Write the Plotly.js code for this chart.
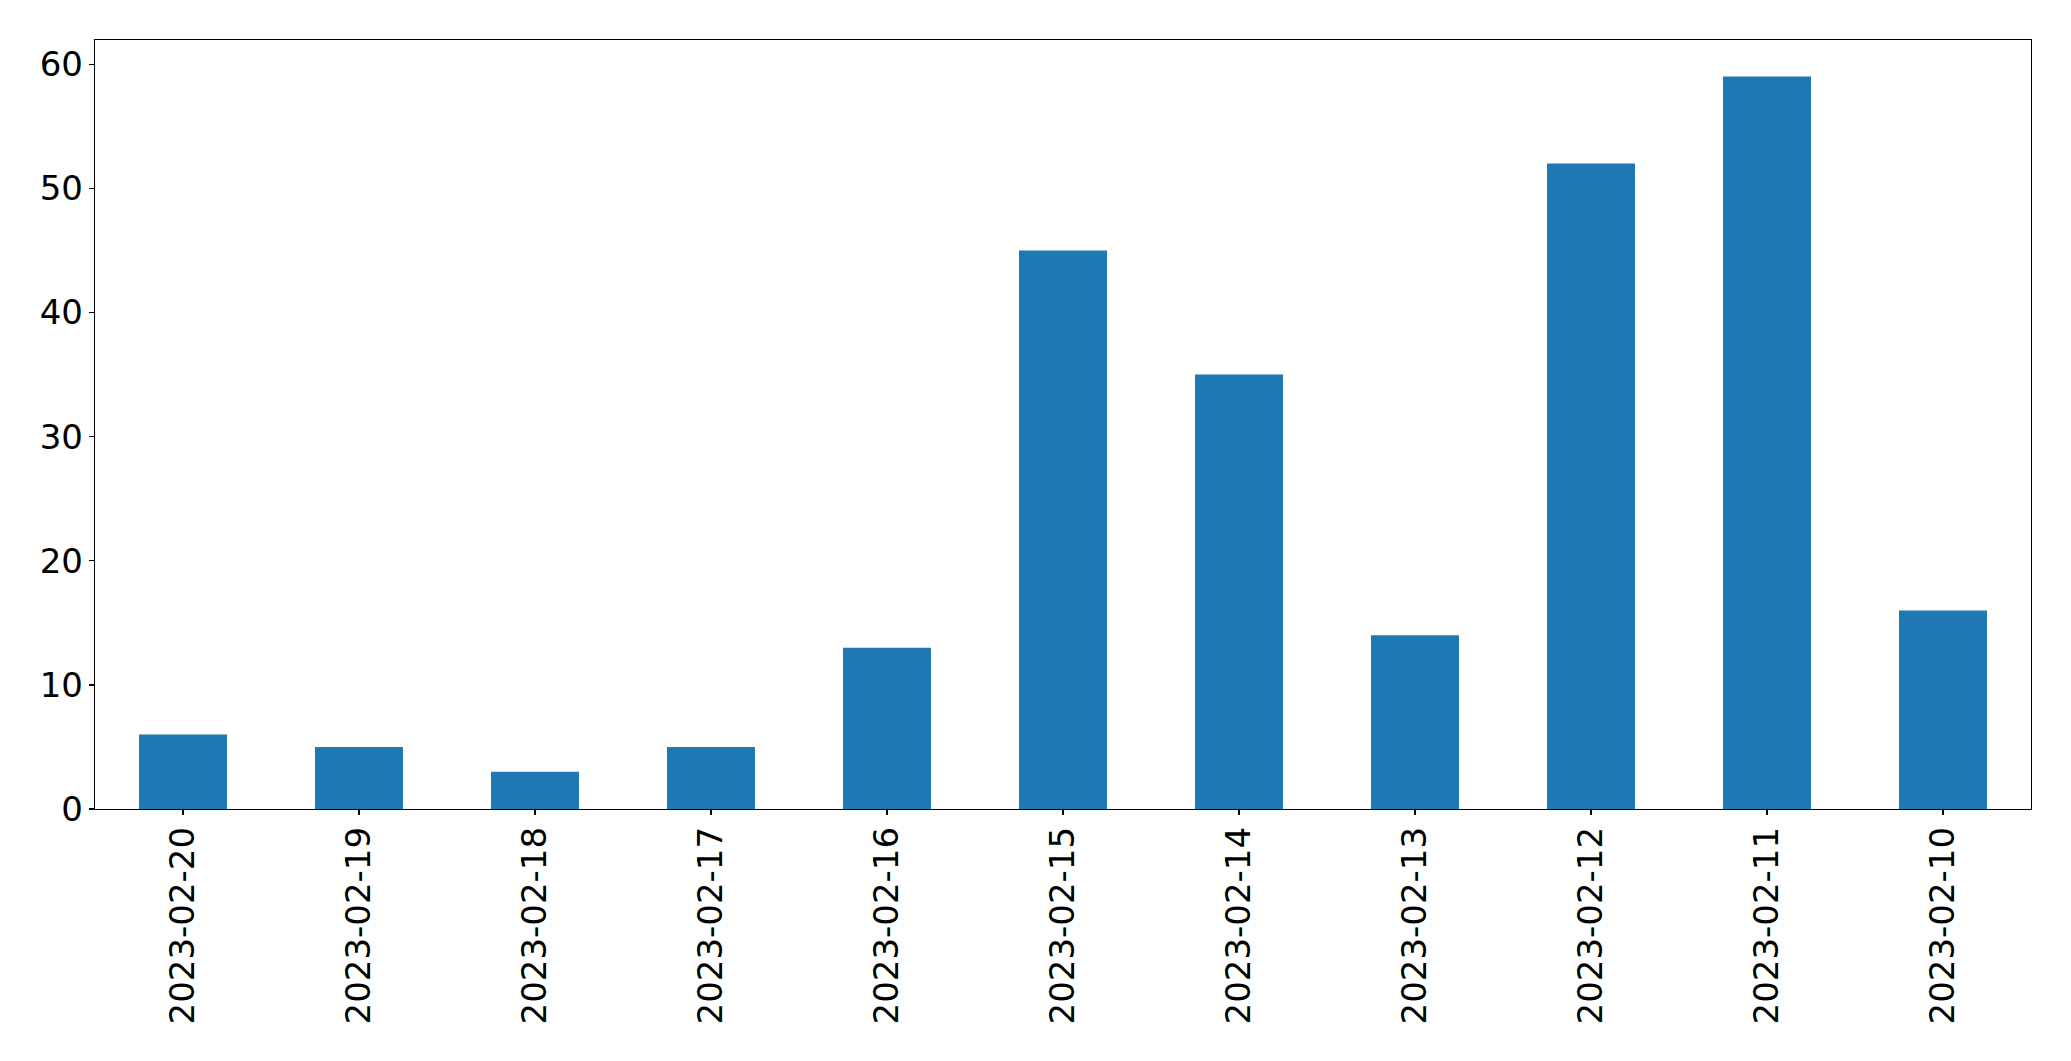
<!DOCTYPE html>
<html>
<head>
<meta charset="utf-8">
<script src="https://cdn.plot.ly/plotly-3.0.1.min.js"></script>
<style>html,body{margin:0;padding:0;background:#fff;}#chart{width:2071px;height:1061px;}</style>
</head>
<body>
<div id="chart"></div>
<script>
const dates = ["2023-02-20","2023-02-19","2023-02-18","2023-02-17","2023-02-16","2023-02-15","2023-02-14","2023-02-13","2023-02-12","2023-02-11","2023-02-10"];
const counts = [6, 5, 3, 5, 13, 45, 35, 14, 52, 59, 16];
const yTicks = [0, 10, 20, 30, 40, 50, 60];

const trace = {
  type: 'bar',
  x: dates,
  y: counts,
  width: 0.5,
  marker: {color: '#1f77b4', line: {width: 0}},
  hoverinfo: 'none'
};

const fontSize = 34;
const layout = {
  width: 2071,
  height: 1061,
  margin: {l: 94.5, r: 39.5, t: 39.5, b: 252, pad: 0},
  paper_bgcolor: '#fff',
  plot_bgcolor: '#fff',
  showlegend: false,
  font: {family: 'DejaVu Sans', size: fontSize, color: '#000'},
  xaxis: {
    type: 'category',
    range: [-0.5, dates.length - 0.5],
    tickangle: -90,
    showgrid: false,
    zeroline: false,
    showline: true,
    mirror: true,
    linecolor: '#000',
    linewidth: 1.3,
    ticks: 'outside',
    ticklen: 5,
    tickwidth: 1.3,
    tickcolor: '#000',
    ticklabelstandoff: -2,
    tickfont: {family: 'DejaVu Sans', size: fontSize, color: '#000'}
  },
  yaxis: {
    range: [0, 61.95],
    tickvals: yTicks,
    ticktext: yTicks.map(String),
    showgrid: false,
    zeroline: false,
    showline: true,
    mirror: true,
    linecolor: '#000',
    linewidth: 1.3,
    ticks: 'outside',
    ticklen: 5,
    tickwidth: 1.3,
    tickcolor: '#000',
    ticklabelstandoff: -1,
    tickfont: {family: 'DejaVu Sans', size: fontSize, color: '#000'}
  }
};

Plotly.newPlot('chart', [trace], layout, {displayModeBar: false, staticPlot: true});
</script>
</body>
</html>
